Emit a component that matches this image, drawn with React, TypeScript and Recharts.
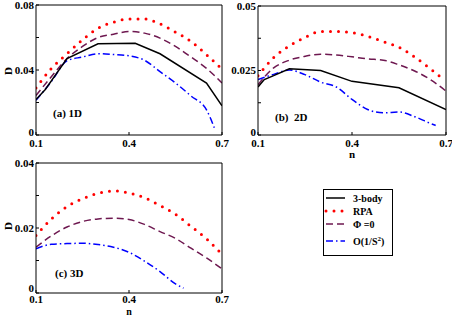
import React from 'react'
import {LineChart, Line, XAxis, YAxis} from 'recharts'

// common n grid
const nGrid = [0.1, 0.15, 0.2, 0.25, 0.3, 0.35, 0.4, 0.45, 0.5, 0.55, 0.6, 0.65, 0.7]

// (a) 1D
const nBodyA = [0.1, 0.13, 0.2, 0.3, 0.42, 0.5, 0.65, 0.7]
const bodyA = [0.0218, 0.028, 0.047, 0.0561, 0.0565, 0.05, 0.032, 0.018]
const rpaA = [0.029, 0.041, 0.05, 0.0586, 0.0657, 0.0694, 0.0714, 0.0714, 0.0684, 0.0633, 0.0576, 0.0494, 0.0405]
const phiA = [0.0243, 0.036, 0.047, 0.0545, 0.06, 0.062, 0.0637, 0.0627, 0.0596, 0.0545, 0.048, 0.041, 0.032]
const nOA = [0.1, 0.15, 0.2, 0.25, 0.3, 0.35, 0.4, 0.45, 0.5, 0.55, 0.6, 0.65, 0.675]
const oA = [0.0214, 0.033, 0.0457, 0.048, 0.05, 0.0495, 0.0487, 0.046, 0.039, 0.032, 0.024, 0.0155, 0.0045]

// (b) 2D
const nBodyB = [0.1, 0.12, 0.15, 0.2, 0.3, 0.4, 0.55, 0.7]
const bodyB = [0.0186, 0.0215, 0.023, 0.0257, 0.025, 0.0208, 0.0183, 0.0099]
const nRpaB = [0.1, 0.15, 0.2, 0.25, 0.3, 0.35, 0.4, 0.45, 0.5, 0.55, 0.6, 0.65, 0.68]
const rpaB = [0.023, 0.03, 0.0345, 0.0378, 0.0401, 0.0401, 0.0397, 0.0382, 0.0362, 0.034, 0.0302, 0.0257, 0.0228]
const phiB = [0.0195, 0.026, 0.029, 0.0305, 0.0313, 0.031, 0.0303, 0.0295, 0.029, 0.0272, 0.0248, 0.0215, 0.017]
const nOB = [0.1, 0.15, 0.2, 0.25, 0.3, 0.35, 0.4, 0.45, 0.5, 0.55, 0.6, 0.65, 0.667]
const oB = [0.0215, 0.0235, 0.0252, 0.0234, 0.0205, 0.0186, 0.0138, 0.0099, 0.0086, 0.0089, 0.0071, 0.0045, 0.0037]

// (c) 3D
const nRpaC = [0.1, 0.15, 0.2, 0.25, 0.3, 0.35, 0.4, 0.45, 0.5, 0.55, 0.6, 0.65, 0.69]
const rpaC = [0.0177, 0.0228, 0.0266, 0.029, 0.0307, 0.0314, 0.0308, 0.0293, 0.0269, 0.0242, 0.0205, 0.0167, 0.0129]
const phiC = [0.0141, 0.0176, 0.0203, 0.022, 0.0228, 0.023, 0.0226, 0.0211, 0.0189, 0.0168, 0.0138, 0.0108, 0.0074]
const nOC = [0.1, 0.15, 0.2, 0.25, 0.3, 0.35, 0.4, 0.45, 0.5, 0.55, 0.576]
const oC = [0.0136, 0.015, 0.0152, 0.0153, 0.0149, 0.0141, 0.0125, 0.0098, 0.0066, 0.0028, 0.0015]

const xTicks = [0.1, 0.4, 0.7]
const xLabels = ['0.1', '0.4', '0.7']
const yTicksA = [0, 0.02, 0.04, 0.06, 0.08]
const yLabelsA = ['0', '', '0.04', '', '0.08']
const yTicksB = [0, 0.0125, 0.025, 0.0375, 0.05]
const yLabelsB = ['0', '', '0.025', '', '0.05']
const yTicksC = [0, 0.01, 0.02, 0.03, 0.04]
const yLabelsC = ['0', '', '0.02', '', '0.04']

const legendNames = ['3-body', 'RPA', 'Φ =0', 'O(1/S']

const zip = (ns: number[], ds: number[]) => ns.map((n, i) => ({n, D: ds[i]}))

const font = '"Liberation Serif", "Times New Roman", serif'
const tickStyle = {fill: '#000', fontSize: 11, fontWeight: 'bold', fontFamily: font}

const styles: Record<string, any> = {
  body: {stroke: '#000', strokeWidth: 1.5},
  rpa: {stroke: '#ff0000', strokeWidth: 3, strokeDasharray: '0 8', strokeLinecap: 'round'},
  phi: {stroke: '#6e1850', strokeWidth: 1.5, strokeDasharray: '7 4'},
  o: {stroke: '#0000ff', strokeWidth: 1.5, strokeDasharray: '7 3 1.5 3'}
}

interface Series {
  key: string
  data: {n: number; D: number}[]
  linear?: boolean
}

interface PanelProps {
  left: number
  top: number
  width: number
  height: number
  box: {top: number; right: number; bottom: number; left: number}
  yMax: number
  yTicks: number[]
  yLabels: string[]
  xMargin: number
  zeroLift: number
  series: Series[]
}

// y label at 0 sits a little higher so it does not run into "0.1"
const YTick = (props: any) => {
  const {x, y, payload, index, labels, zeroLift} = props
  const lift = payload.value === 0 ? zeroLift : 0
  return (
    <text x={x} y={y + lift} dy='0.35em' textAnchor='end' {...tickStyle}>
      {labels[index]}
    </text>
  )
}

const Panel: React.FC<PanelProps> = ({left, top, width, height, box, yMax, yTicks, yLabels, xMargin, zeroLift, series}) => (
  <div style={{position: 'absolute', left, top}}>
    <LineChart width={width} height={height} margin={{top: 0, right: 0, bottom: 0, left: 0}}>
      <XAxis
        dataKey='n'
        type='number'
        domain={[0.1, 0.7]}
        ticks={xTicks}
        interval={0}
        tickFormatter={(_v, i) => xLabels[i]}
        tickSize={-3}
        tickMargin={xMargin}
        height={box.bottom}
        stroke='#000'
        tick={tickStyle}
        allowDataOverflow
      />
      <XAxis
        xAxisId='top'
        orientation='top'
        dataKey='n'
        type='number'
        domain={[0.1, 0.7]}
        ticks={xTicks}
        interval={0}
        tickSize={-3}
        height={box.top}
        stroke='#000'
        tick={false}
        allowDataOverflow
      />
      <YAxis
        type='number'
        domain={[0, yMax]}
        ticks={yTicks}
        interval={0}
        tickSize={-3}
        tickMargin={5}
        width={box.left}
        stroke='#000'
        tick={<YTick labels={yLabels} zeroLift={zeroLift} />}
        allowDataOverflow
      />
      <YAxis
        yAxisId='right'
        orientation='right'
        type='number'
        domain={[0, yMax]}
        ticks={yTicks}
        interval={0}
        tickSize={-3}
        width={box.right}
        stroke='#000'
        tick={false}
        allowDataOverflow
      />
      {series.map(s => (
        <Line
          key={s.key}
          data={s.data}
          dataKey='D'
          type={s.linear ? 'linear' : 'monotone'}
          dot={false}
          activeDot={false}
          isAnimationActive={false}
          {...styles[s.key]}
        />
      ))}
    </LineChart>
  </div>
)

const textStyle = {fontFamily: font, fontWeight: 'bold', fontSize: 11, fill: '#000'} as const

export default function App() {
  return (
    <div style={{position: 'absolute', left: 0, top: 0, width: 452, height: 315, background: '#fff'}}>
      <Panel
        left={0}
        top={0}
        width={230}
        height={150}
        box={{top: 5, right: 8, bottom: 15, left: 36}}
        yMax={0.08}
        yTicks={yTicksA}
        yLabels={yLabelsA}
        xMargin={7}
        zeroLift={-3}
        series={[
          {key: 'rpa', data: zip(nGrid, rpaA)},
          {key: 'phi', data: zip(nGrid, phiA)},
          {key: 'o', data: zip(nOA, oA)},
          {key: 'body', data: zip(nBodyA, bodyA), linear: true}
        ]}
      />
      <Panel
        left={226}
        top={0}
        width={226}
        height={150}
        box={{top: 6, right: 6, bottom: 15, left: 32}}
        yMax={0.05}
        yTicks={yTicksB}
        yLabels={yLabelsB}
        xMargin={7}
        zeroLift={-3}
        series={[
          {key: 'rpa', data: zip(nRpaB, rpaB)},
          {key: 'phi', data: zip(nGrid, phiB)},
          {key: 'o', data: zip(nOB, oB)},
          {key: 'body', data: zip(nBodyB, bodyB), linear: true}
        ]}
      />
      <Panel
        left={0}
        top={150}
        width={230}
        height={165}
        box={{top: 13, right: 8, bottom: 22, left: 36}}
        yMax={0.04}
        yTicks={yTicksC}
        yLabels={yLabelsC}
        xMargin={5}
        zeroLift={-5}
        series={[
          {key: 'rpa', data: zip(nRpaC, rpaC)},
          {key: 'phi', data: zip(nGrid, phiC)},
          {key: 'o', data: zip(nOC, oC)}
        ]}
      />
      <svg width={452} height={315} style={{position: 'absolute', left: 0, top: 0, pointerEvents: 'none'}}>
        <text {...textStyle} x={8} y={71} textAnchor='middle' transform='rotate(-90 8 71)' dy='0.35em'>D</text>
        <text {...textStyle} x={8} y={226} textAnchor='middle' transform='rotate(-90 8 226)' dy='0.35em'>D</text>
        <text {...textStyle} x={352} y={158} textAnchor='middle'>n</text>
        <text {...textStyle} fontSize={10} x={129} y={314.5} textAnchor='middle'>n</text>
        <text {...textStyle} x={53} y={117}>(a) 1D</text>
        <text {...textStyle} x={275} y={121} style={{whiteSpace: 'pre'}}>(b)  2D</text>
        <text {...textStyle} x={55} y={277}>(c) 3D</text>

        <rect x={323.5} y={189.5} width={69} height={66} fill='#fff' stroke='#000' strokeWidth={1} />
        {['body', 'rpa', 'phi', 'o'].map((k, i) => {
          const y = [198, 211, 224, 241][i]
          return (
            <g key={k}>
              <line x1={326} x2={345} y1={y} y2={y} {...styles[k]} />
              <text {...textStyle} fontSize={10} x={353} y={y} dy='0.35em'>
                {legendNames[i]}
                {k === 'o' && (
                  <>
                    <tspan fontSize={7} dy='-4'>2</tspan>
                    <tspan dy='4'>)</tspan>
                  </>
                )}
              </text>
            </g>
          )
        })}
      </svg>
    </div>
  )
}
